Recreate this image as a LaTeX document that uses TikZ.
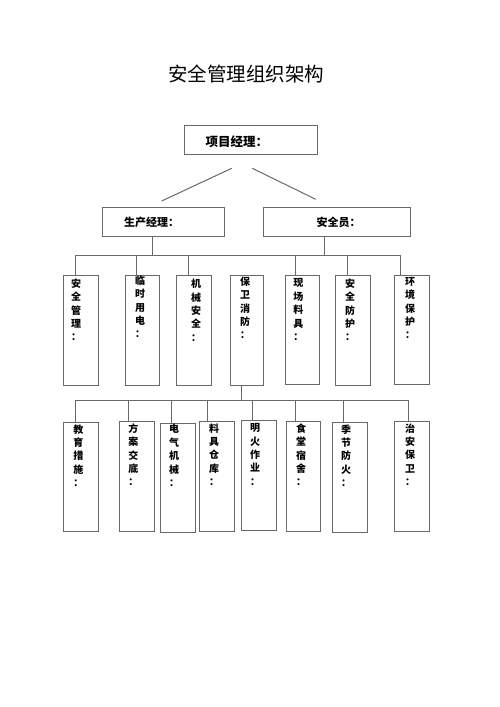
\documentclass[tikz,border=0pt]{standalone}
\usepackage{fontspec}
\newfontfamily\cjk{Noto Sans CJK SC}
\definecolor{linec}{RGB}{105,105,105}
\tikzset{
  box/.style={draw=linec, line width=1pt, inner sep=0pt, rectangle},
  conn/.style={draw=linec, line width=1pt},
  vtext/.style={font=\cjk\bfseries\fontsize{10}{13.4}\selectfont, align=center, anchor=north, inner sep=0pt},
  htext/.style={font=\cjk\bfseries\fontsize{11}{13}\selectfont, anchor=west, inner sep=0pt},
}
\begin{document}
\begin{tikzpicture}[x=1pt,y=-1pt]
\useasboundingbox (0,0) rectangle (500,707);
\fill[white] (0,0) rectangle (500,707);
% title
\node[font=\cjk\fontsize{19.5}{22}\selectfont, inner sep=0pt] (title) at (246,73.5) {安全管理组织架构};
% top
\node[box, minimum width=133, minimum height=29] (pm) at (250.5,139.5) {};
\node[htext, font=\cjk\bfseries\fontsize{12.5}{14}\selectfont] (pmt) at (205.5,141.5) {项目经理：};
% middle
\node[box, minimum width=122, minimum height=29.4] (prod) at (163.3,222) {};
\node[htext] (prodt) at (124,222) {生产经理：};
\node[box, minimum width=147.3, minimum height=29.4] (safe) at (337.3,222) {};
\node[htext] (safet) at (316.5,222) {安全员：};
% floating lines
\coordinate (la) at (231.7,168.3);
\coordinate (lb) at (161.7,201);
\coordinate (ra) at (252.3,168.3);
\coordinate (rb) at (315.7,199.3);
\draw[conn] (la) -- (lb);
\draw[conn] (ra) -- (rb);
% row 2 boxes
\node[box, minimum width=35, minimum height=110] (a1) at (80.8,330.6) {};
\node[box, minimum width=34.3, minimum height=110] (a2) at (142.2,330.6) {};
\node[box, minimum width=35, minimum height=110] (a3) at (193.5,330.2) {};
\node[box, minimum width=33.3, minimum height=110] (a4) at (246.7,330.5) {};
\node[box, minimum width=34.3, minimum height=108.6] (a5) at (302.2,330) {};
\node[box, minimum width=34.7, minimum height=110] (a6) at (353.3,330.8) {};
\node[box, minimum width=34.7, minimum height=108.6] (a7) at (411.7,330) {};
\node[vtext] (a1t) at (76,278.5) {安\\全\\管\\理\\：};
\node[vtext] (a2t) at (140,275.5) {临\\时\\用\\电\\：};
\node[vtext] (a3t) at (196,279) {机\\械\\安\\全\\：};
\node[vtext] (a4t) at (245,276.5) {保\\卫\\消\\防\\：};
\node[vtext] (a5t) at (298.3,278.5) {现\\场\\料\\具\\：};
\node[vtext] (a6t) at (350,278.5) {安\\全\\防\\护\\：};
\node[vtext] (a7t) at (410,277) {环\\境\\保\\护\\：};
% bus 1
\draw[conn] (prod.south -| 152.7,0) -- (152.7,255.7);
\draw[conn] (safe.south -| 324,0) -- (324,255.7);
\draw[conn] (a1.north -| 75.7,0) -- (75.7,255.7) -- (400,255.7) -- (a7.north -| 400,0);
\draw[conn] (a2.north -| 136,0) -- (136,255.7);
\draw[conn] (a3.north -| 188.7,0) -- (188.7,255.7);
\draw[conn] (a5.north -| 295,0) -- (295,255.7);
\draw[conn] (a6.north -| 347.7,0) -- (347.7,255.7);
% row 3 boxes
\node[box, minimum width=35, minimum height=109] (c1) at (80.8,477.2) {};
\node[box, minimum width=35, minimum height=110] (c2) at (136.8,476.7) {};
\node[box, minimum width=35, minimum height=109.4] (c3) at (177.5,478) {};
\node[box, minimum width=35, minimum height=110] (c4) at (216.8,476.7) {};
\node[box, minimum width=35, minimum height=109.7] (c5) at (259.2,475.8) {};
\node[box, minimum width=34.3, minimum height=110] (c6) at (303.8,476.7) {};
\node[box, minimum width=35, minimum height=110] (c7) at (350.2,477.7) {};
\node[box, minimum width=34.7, minimum height=110] (c8) at (411.7,476.7) {};
\node[vtext] (c1t) at (78.3,424.3) {教\\育\\措\\施\\：};
\node[vtext] (c2t) at (133.3,423.3) {方\\案\\交\\底\\：};
\node[vtext] (c3t) at (174,424.3) {电\\气\\机\\械\\：};
\node[vtext] (c4t) at (214,423.3) {料\\具\\仓\\库\\：};
\node[vtext] (c5t) at (255,423.3) {明\\火\\作\\业\\：};
\node[vtext] (c6t) at (301,423.3) {食\\堂\\宿\\舍\\：};
\node[vtext] (c7t) at (346,424.3) {季\\节\\防\\火\\：};
\node[vtext] (c8t) at (410,423.3) {治\\安\\保\\卫\\：};
% bus 2
\draw[conn] (a4.south -| 241.7,0) -- (241.7,400);
\draw[conn] (c1.north -| 75.7,0) -- (75.7,400) -- (408.3,400) -- (c8.north -| 408.3,0);
\draw[conn] (c2.north -| 128.3,0) -- (128.3,400);
\draw[conn] (c3.north -| 171.7,0) -- (171.7,400);
\draw[conn] (c4.north -| 207.7,0) -- (207.7,400);
\draw[conn] (c5.north -| 252.3,0) -- (252.3,400);
\draw[conn] (c6.north -| 295.7,0) -- (295.7,400);
\draw[conn] (c7.north -| 343.3,0) -- (343.3,400);
\end{tikzpicture}
\end{document}
